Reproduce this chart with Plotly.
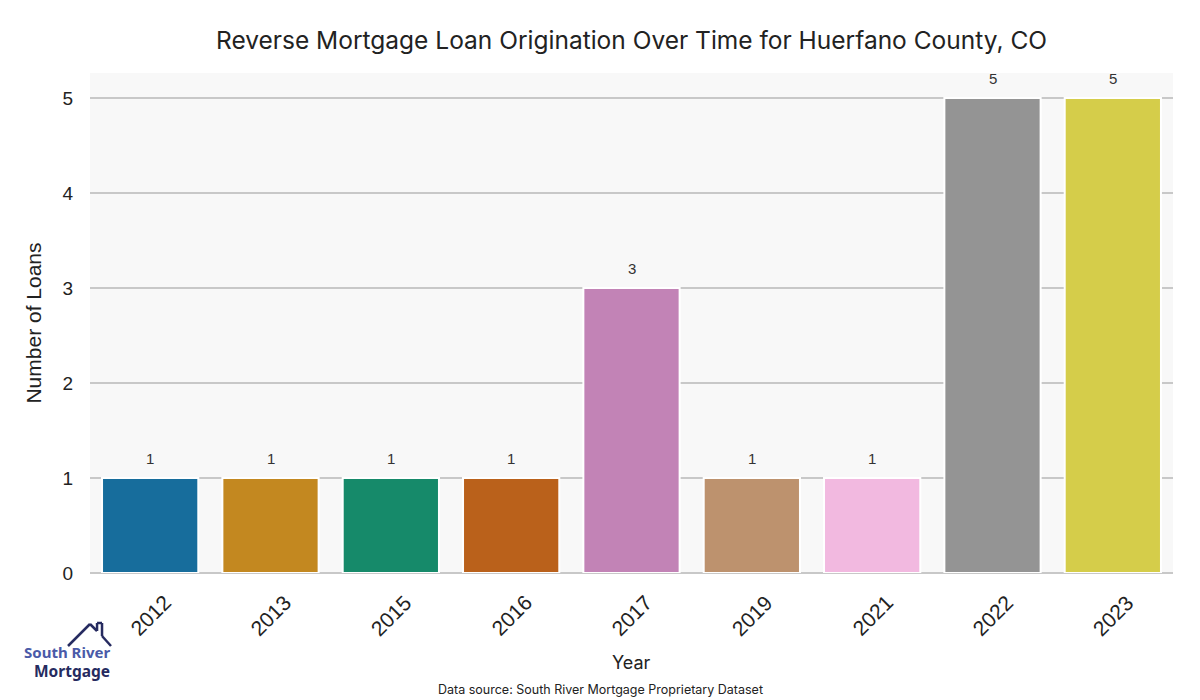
import plotly.graph_objects as go

years = ["2012", "2013", "2015", "2016", "2017", "2019", "2021", "2022", "2023"]
loans = [1, 1, 1, 1, 3, 1, 1, 5, 5]
bar_colors = ["#176d9c", "#c38820", "#168a6a", "#ba611b", "#c283b6",
              "#bd926e", "#f2b9e0", "#949494", "#d5cd4a"]
y_ticks = [0, 1, 2, 3, 4, 5]

title_font = "Inter, Lato, sans-serif"
tick_font = "Liberation Sans, Arial, sans-serif"

fig = go.Figure()
fig.add_trace(go.Bar(
    x=years, y=loans,
    marker=dict(color=bar_colors, line=dict(color="white", width=2)),
    hoverinfo="x+y",
))

# value labels (category index positions on the category axis)
for i, v in enumerate(loans):
    fig.add_annotation(x=i, y=v, text=str(v), showarrow=False,
                       yanchor="bottom", yshift=9,
                       font=dict(family=tick_font, size=15, color="#333333"))

# x tick labels, rotated 45 degrees and centred under each bar
for i, yr in enumerate(years):
    fig.add_annotation(x=i, xref="x", yref="paper", y=-0.084, text=yr, showarrow=False,
                       textangle=-45, xanchor="center", yanchor="middle", borderpad=0,
                       font=dict(family=tick_font, size=21, color="#222222"))

# x axis title
fig.add_annotation(xref="paper", yref="paper", x=0.5, y=-0.178, yanchor="middle",
                   text="Year", showarrow=False,
                   font=dict(family=title_font, size=18, color="#222222"))

# footer: data source
fig.add_annotation(xref="paper", yref="paper", x=0.471, y=-0.232, yanchor="middle",
                   text="Data source: South River Mortgage Proprietary Dataset",
                   showarrow=False, font=dict(family=title_font, size=12.5, color="#222222"))

# logo text
fig.add_annotation(xref="paper", yref="paper", x=0.0194, y=-0.157, xanchor="right", yanchor="middle",
                   text="<b>South River</b>", showarrow=False, borderpad=0,
                   font=dict(family="Noto Sans, sans-serif", size=15, color="#4a5aa8"))
fig.add_annotation(xref="paper", yref="paper", x=0.0194, y=-0.195, xanchor="right", yanchor="middle",
                   text="<b>Mortgage</b>", showarrow=False, borderpad=0,
                   font=dict(family="Noto Sans, sans-serif", size=15.5, color="#262b60"))

# logo house outline (paper coords)
house_pts = [(-0.0203, -0.146), (0.0, -0.102), (0.0065, -0.116), (0.0065, -0.100),
             (0.0111, -0.100), (0.0111, -0.126), (0.0194, -0.146)]
shapes = []
for (x0, y0), (x1, y1) in zip(house_pts[:-1], house_pts[1:]):
    shapes.append(dict(type="line", xref="paper", yref="paper", x0=x0, y0=y0, x1=x1, y1=y1,
                       line=dict(color="#262b60", width=2.5)))

fig.update_layout(
    width=1200, height=700,
    margin=dict(l=82, r=35, t=65, b=135, autoexpand=False),
    paper_bgcolor="white",
    plot_bgcolor="#f8f8f8",
    bargap=0.2,
    showlegend=False,
    shapes=shapes,
    title=dict(text="Reverse Mortgage Loan Origination Over Time for Huerfano County, CO",
               xref="paper", x=0.5, xanchor="center", y=0.954, yanchor="middle",
               font=dict(family=title_font, size=24.5, color="#222222")),
    xaxis=dict(type="category", automargin=False, range=[-0.5, 8.5],
               showticklabels=False,
               showgrid=False, showline=False),
    yaxis=dict(automargin=False,
               title=dict(text="Number of Loans", font=dict(family=tick_font, size=21, color="#222222"), standoff=15),
               range=[0, 5.263], tickvals=y_ticks, ticklabelstandoff=16,
               tickfont=dict(family=tick_font, size=19, color="#222222"),
               showgrid=True, gridcolor="#c8c8c8", gridwidth=1.8,
               zeroline=True, zerolinecolor="#c8c8c8", zerolinewidth=1.8),
)

fig.write_html("out.html")
